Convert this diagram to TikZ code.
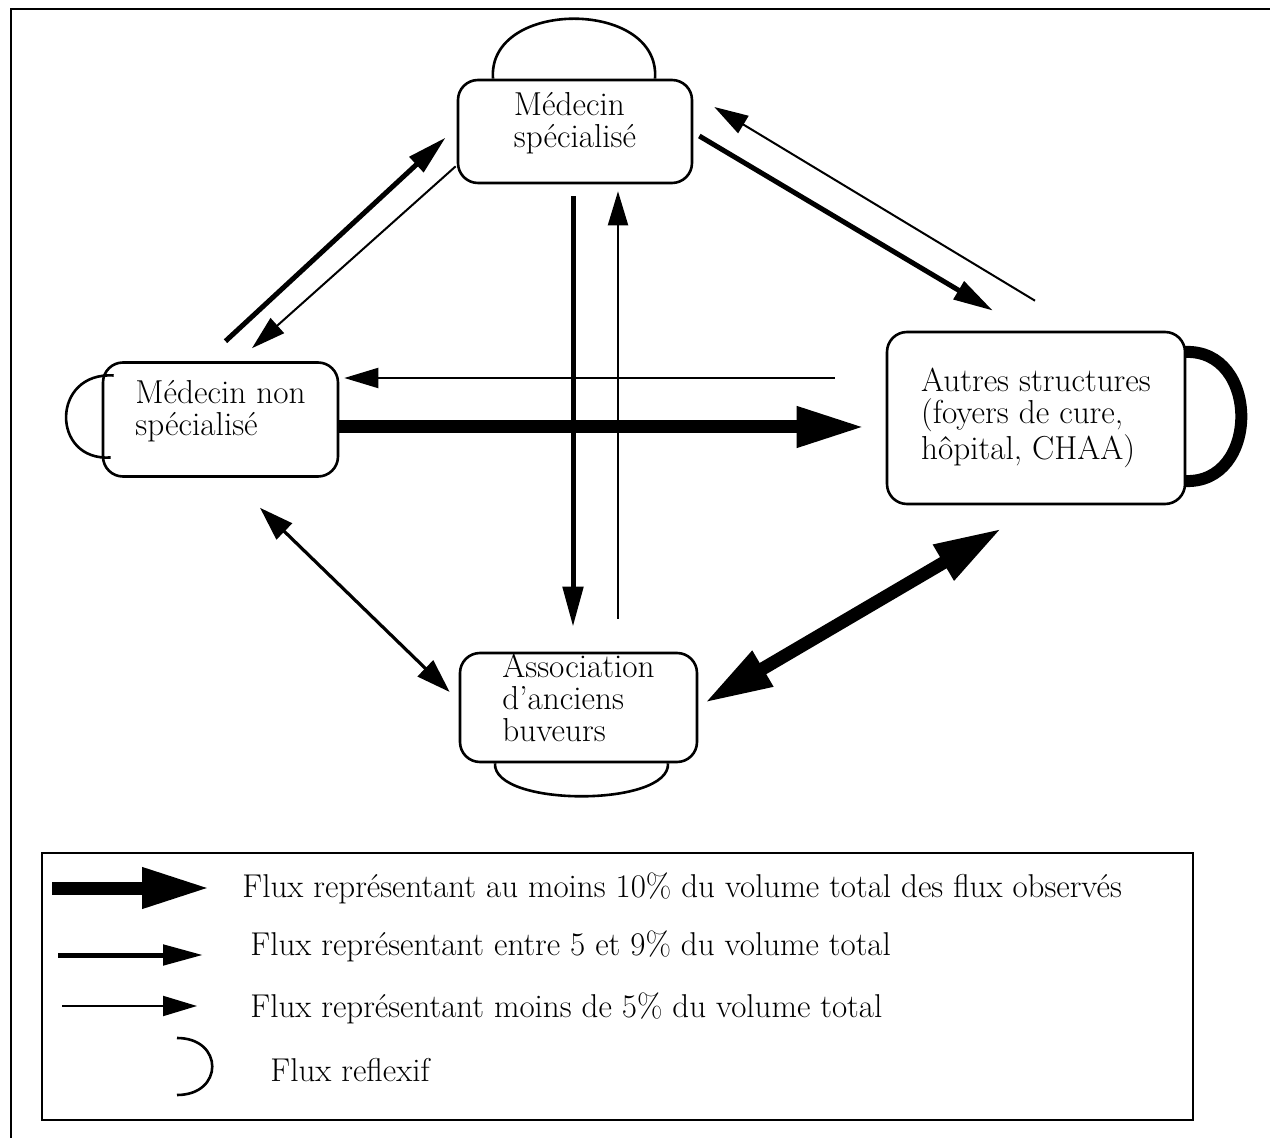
\documentclass[tikz,border=0pt]{standalone}
\usepackage{tikz}
\usetikzlibrary{arrows.meta, calc, positioning}
\tikzset{
  poste/.style={draw, rounded corners=10pt, line width=1.3pt, align=left,
    inner sep=0pt, font=\fontsize{16.6}{16}\selectfont},
  reflexe/.style={line width=1.3pt},
  fort/.style={line width=6.5pt, >={Triangle[length=34pt,width=19pt]}},
  moyen/.style={line width=2.5pt, >={Triangle[length=20pt,width=10pt]}},
  faible/.style={line width=1pt, >={Triangle[length=17pt,width=10pt]}},
  legende/.style={anchor=west, inner sep=0pt, font=\fontsize{16.5}{16}\selectfont},
}

\begin{document}
\begin{tikzpicture}[x=0.5pt, y=-0.5pt]
  \useasboundingbox (0,0) rectangle (1270,1138);
  % frame
  \draw[line width=1pt] (11,1160) -- (11,9) -- (1290,9);
  % boxes
  \node[poste, minimum width=117pt, minimum height=51.5pt] (spec) at (575,131.5) {Médecin\\spécialisé\\[-4pt]};
  \node[poste, minimum width=117.5pt, minimum height=57pt] (nonspec) at (220.5,419.5) {Médecin non\\spécialisé\\[-4pt]};
  \node[poste, minimum width=149pt, minimum height=86pt] (autres) at (1036,418) {Autres structures\\(foyers de cure,\\hôpital, CHAA)};
  \node[poste, minimum width=118.5pt, minimum height=54.5pt] (assoc) at (578.5,707.5) {Association\\d'anciens\\buveurs\\[-6pt]};
  % reflexive flows
  \draw[reflexe] ($(spec.north)+(-82,0)$) .. controls ($(spec.north)+(-88,-80)$) and ($(spec.north)+(86,-80)$) .. ($(spec.north)+(80,0)$);
  \draw[reflexe] ($(nonspec.west)+(12,-44)$) .. controls ($(nonspec.west)+(-51,-48)$) and ($(nonspec.west)+(-51,42)$) .. ($(nonspec.west)+(9,38)$);
  \draw[line width=6pt] ($(autres.east)+(-2,-66)$) .. controls ($(autres.east)+(74,-70)$) and ($(autres.east)+(74,67)$) .. ($(autres.east)+(-2,63)$);
  \draw[reflexe] ($(assoc.south)+(-83.5,0)$) .. controls ($(assoc.south)+(-86,44)$) and ($(assoc.south)+(92,44)$) .. ($(assoc.south)+(89.5,0)$);
  % flows between boxes
  \draw[moyen, ->] ($(nonspec.north)+(5,-20)$) -- ($(spec.west)+(-11,6)$);
  \draw[faible, ->] ($(spec.south west)+(-1,-18)$) -- ($(nonspec.north)+(31.5,-13)$);
  \draw[moyen, ->] ($(spec.east)+(6,4.5)$) -- ($(autres.north)+(-43,-20)$);
  \draw[faible, ->] ($(autres.north)+(-1,-30)$) -- ($(spec.east)+(21,-24.5)$);
  \draw[faible, ->] ($(autres.west)+(-51,-40)$) -- ($(nonspec.east)+(5,-41.5)$);
  \draw[fort, ->] ($(nonspec.east)+(0,7.5)$) -- ($(autres.west)+(-21,9)$);
  \draw[moyen, ->] ($(spec.south)+(-2,12)$) -- ($(assoc.north)+(-5.5,-25)$);
  \draw[faible, ->] ($(assoc.north)+(39.5,-33)$) -- ($(spec.south)+(43,7)$);
  \draw[line width=1.6pt, >={Triangle[length=17pt,width=11pt]}, <->] ($(nonspec.south)+(39.5,30)$) -- ($(assoc.west)+(-9,-15.5)$);
  \draw[fort, <->] ($(assoc.east)+(6,-4.5)$) -- ($(autres.south)+(-34,23)$);
  % legend
  \draw[line width=1pt] (42,853) rectangle (1193,1120);
  \node[legende] (lg1) at (242,888) {Flux représentant au moins 10\% du volume total des flux observés};
  \node[legende] (lg2) at (250,946) {Flux représentant entre 5 et 9\% du volume total};
  \node[legende] (lg3) at (250,1008) {Flux représentant moins de 5\% du volume total};
  \node[legende] (lg4) at (270,1070) {Flux reflexif};
  \draw[fort, ->] ($(lg1.west)+(-190,0)$) -- ($(lg1.west)+(-32,0)$);
  \draw[moyen, ->] ($(lg2.west)+(-192,9)$) -- ($(lg2.west)+(-47,9)$);
  \draw[faible, ->] ($(lg3.west)+(-188,-2)$) -- ($(lg3.west)+(-53,-2)$);
  \draw[reflexe] ($(lg4.west)+(-93,-32)$) .. controls ($(lg4.west)+(-46,-32)$) and ($(lg4.west)+(-46,25)$) .. ($(lg4.west)+(-93,25)$);
\end{tikzpicture}
\end{document}
